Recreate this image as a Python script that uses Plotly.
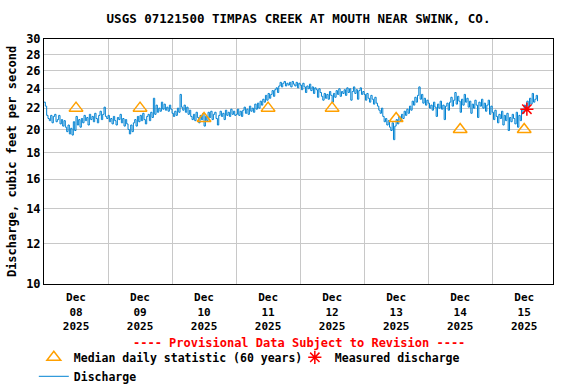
import pandas as pd
import plotly.graph_objects as go


# ============================================
# Data (30-minute discharge, cfs)
# ============================================

dec08 = [22.6, 22.2, 21.3, 21.0, 20.8, 21.3, 20.6, 21.2,
         21.4, 20.7, 20.9, 21.3, 20.5, 20.9, 20.3, 20.8,
         20.2, 19.8, 20.4, 19.6, 20.1, 19.5, 20.7, 19.9,
         21.2, 20.4, 20.9, 20.2, 21.0, 20.6, 21.3, 20.8,
         21.1, 20.4, 21.4, 20.9, 21.2, 20.7, 21.5, 21.0,
         20.6, 21.3, 21.7, 20.9, 21.4, 22.1, 21.2, 21.0]

dec09 = [21.3, 20.7, 21.0, 20.5, 21.2, 20.8, 20.4, 21.1,
         20.9, 21.4, 20.6, 21.0, 20.3, 20.9, 20.5, 20.0,
         19.6, 20.4, 19.8, 20.6, 20.9, 20.3, 21.2, 20.7,
         21.3, 20.8, 21.5, 20.9, 20.5, 21.2, 21.4, 20.8,
         21.6, 21.1, 23.0, 21.4, 22.3, 21.6, 22.0, 21.7,
         22.6, 21.9, 22.4, 21.8, 22.1, 21.7, 22.3, 21.9]

dec10 = [21.5, 21.2, 21.7, 21.3, 22.0, 21.6, 23.4, 22.1,
         21.8, 22.3, 21.6, 22.1, 21.4, 21.8, 21.2, 20.9,
         21.4, 20.8, 21.6, 21.1, 20.6, 21.3, 20.9, 21.5,
         20.3, 21.2, 20.8, 21.6, 21.1, 21.7, 20.9, 21.4,
         21.6, 21.0, 20.4, 21.3, 21.7, 21.2, 21.5, 20.9,
         21.8, 21.3, 21.6, 21.2, 21.9, 21.4, 21.7, 21.3]

dec11 = [21.4, 21.9, 21.3, 21.7, 21.2, 21.8, 22.1, 21.5,
         21.9, 21.4, 22.2, 21.7, 22.0, 21.6, 22.4, 21.9,
         22.5, 22.0, 22.7, 22.3, 22.9, 22.6, 23.3, 22.8,
         23.5, 23.0, 23.4, 23.8, 23.2, 23.9, 24.1, 23.6,
         24.3, 24.7, 24.2, 24.6, 24.8, 24.3, 24.6, 24.4,
         24.7, 24.2, 24.8, 24.5, 24.3, 24.7, 24.1, 24.6]

dec12 = [24.4, 23.9, 24.6, 24.2, 23.6, 24.3, 24.0, 24.5,
         23.8, 24.2, 23.5, 24.1, 23.9, 23.1, 24.0, 23.6,
         23.2, 22.8, 23.5, 23.0, 23.4, 22.9, 23.7, 23.3,
         22.6, 23.5, 23.1, 23.8, 23.4, 24.0, 23.2, 23.7,
         23.5, 23.9, 23.3, 24.1, 23.6, 24.0, 22.8, 23.7,
         24.2, 23.5, 23.9, 22.9, 23.8, 24.1, 23.4, 23.7]

dec13 = [23.4, 22.8, 23.5, 23.0, 22.6, 23.3, 22.9, 22.4,
         23.1, 22.5, 22.2, 21.8, 21.5, 22.0, 21.2, 20.7,
         21.0, 20.4, 20.8, 20.2, 19.9, 20.6, 19.1, 20.3,
         20.9, 20.5, 21.2, 20.8, 21.4, 21.0, 21.7, 21.3,
         21.9, 21.5, 22.2, 21.8, 22.7, 22.3, 23.1, 22.6,
         23.3, 24.2, 22.9, 23.4, 22.5, 23.0, 22.3, 22.8]

dec14 = [22.5, 22.0, 22.3, 21.8, 22.6, 22.1, 21.2, 22.4,
         22.0, 22.7, 21.9, 22.3, 20.9, 22.2, 22.5, 21.8,
         22.6, 23.1, 22.2, 22.8, 23.6, 22.4, 23.2, 22.7,
         21.6, 22.9, 22.3, 23.4, 22.6, 23.0, 22.1, 22.7,
         21.5, 22.4, 22.0, 22.8, 22.3, 21.1, 22.6, 22.2,
         22.9, 22.0, 22.5, 21.7, 22.3, 22.8, 21.4, 22.2]

dec15 = [21.6, 20.9, 21.8, 21.2, 20.6, 21.4, 21.0, 21.7,
         20.4, 21.3, 20.8, 21.5, 19.9, 21.1, 20.7, 21.4,
         21.0, 20.5, 21.6, 20.2, 21.3, 20.8, 21.9, 21.5,
         22.3, 21.8, 22.7, 22.1, 23.0, 22.4, 23.5, 22.6,
         22.9, 23.3, 22.7]

discharge = dec08 + dec09 + dec10 + dec11 + dec12 + dec13 + dec14 + dec15
discharge_time = pd.date_range("2025-12-08 00:00", periods=len(discharge), freq="30min")

median_time = pd.date_range("2025-12-08 12:00", periods=8, freq="D")
median_values = [22, 22, 21, 22, 22, 21, 20, 20]

measured_time = ["2025-12-15 13:00"]
measured_values = [21.9]

y_ticks = [10, 12, 14, 16, 18, 20, 22, 24, 26, 28, 30]
x_tick_labels = ["Dec<br>%02d<br>2025" % d.day for d in median_time]

FONT = "DejaVu Sans Mono"

# ============================================
# Chart
# ============================================

fig = go.Figure()

fig.add_trace(
    go.Scatter(
        x=discharge_time,
        y=discharge,
        mode="lines",
        name="Discharge",
        legendrank=3,
        line=dict(color="#0082d2", width=1, shape="hv")
    )
)

fig.add_trace(
    go.Scatter(
        x=median_time,
        y=median_values,
        mode="markers",
        name="Median daily statistic (60 years)",
        legendrank=1,
        marker=dict(
            symbol="triangle-up-open",
            size=12,
            color="#ffa000",
            line=dict(width=1.5, color="#ffa000")
        )
    )
)

fig.add_trace(
    go.Scatter(
        x=measured_time,
        y=measured_values,
        mode="markers",
        name="Measured discharge",
        legendrank=2,
        marker=dict(
            symbol="asterisk-open",
            size=11,
            color="red",
            line=dict(width=1.5, color="red")
        )
    )
)

fig.add_annotation(
    text="---- Provisional Data Subject to Revision ----",
    xref="paper",
    yref="paper",
    x=0.5,
    y=-0.241,
    yanchor="middle",
    showarrow=False,
    font=dict(family=FONT, size=12, color="red", weight="bold")
)

fig.update_layout(

    width=576,

    height=384,

    margin=dict(l=44, r=23, t=39, b=100, autoexpand=False),

    paper_bgcolor="white",

    plot_bgcolor="white",

    font=dict(family=FONT, size=12, color="black", weight="bold"),

    title=dict(
        text="USGS 07121500 TIMPAS CREEK AT MOUTH NEAR SWINK, CO.",
        x=0.5,
        xref="paper",
        xanchor="center",
        y=1 - 19 / 384,
        yanchor="middle",
        font=dict(family=FONT, size=12.5, weight="bold")
    ),

    showlegend=True,

    legend=dict(
        orientation="h",
        x=-0.02,
        xanchor="left",
        y=-0.24,
        yanchor="top",
        traceorder="normal",
        entrywidthmode="pixels",
        entrywidth=216,
        font=dict(family=FONT, size=11.5, weight="bold"),
        itemclick=False
    ),

    xaxis=dict(
        range=["2025-12-08 00:00", "2025-12-15 22:48"],
        tickvals=median_time,
        ticktext=x_tick_labels,
        ticks="",
        ticklabelstandoff=3,
        showgrid=False,
        automargin=False,
        minor=dict(
            tick0="2025-12-08",
            dtick=86400000,
            showgrid=True,
            gridcolor="#c8c8c8",
            gridwidth=1
        ),
        showline=True,
        linecolor="black",
        linewidth=1,
        mirror=True,
        zeroline=False,
        tickfont=dict(family=FONT, size=11, weight="bold")
    ),

    yaxis=dict(
        type="log",
        range=[1, 1.4771],
        tickvals=y_ticks,
        ticktext=[str(v) for v in y_ticks],
        showgrid=True,
        gridcolor="#c8c8c8",
        gridwidth=1,
        showline=True,
        linecolor="black",
        linewidth=1,
        mirror=True,
        ticks="",
        automargin=False,
        title=dict(
            text="Discharge, cubic feet per second",
            standoff=6,
            font=dict(family=FONT, size=12, weight="bold")
        ),
        tickfont=dict(family=FONT, size=12, weight="bold")
    )

)

# the page body has a default 8px margin; drop it so the figure sits at 0,0
fig.write_html(
    "out.html",
    config={"displayModeBar": False},
    post_script="document.body.style.margin = '0';"
)
